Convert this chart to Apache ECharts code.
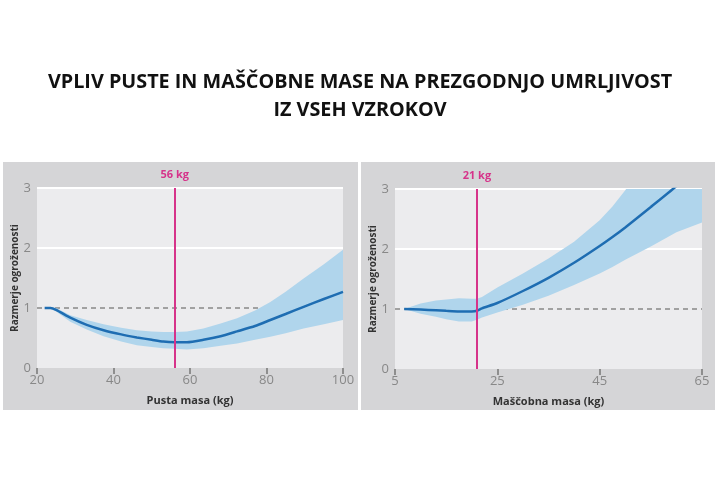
<!DOCTYPE html>
<html><head><meta charset="utf-8">
<script src="https://cdn.jsdelivr.net/npm/echarts@6/dist/echarts.min.js"></script>
<style>html,body{margin:0;padding:0;background:#fff}#c{width:720px;height:500px}</style>
</head><body><div id="c"></div>
<script>
// ---- data ----
const titleLines = ['VPLIV PUSTE IN MAŠČOBNE MASE NA PREZGODNJO UMRLJIVOST', 'IZ VSEH VZROKOV'];
const yName = 'Razmerje ogroženosti';
const leftXName = 'Pusta masa (kg)';
const rightXName = 'Maščobna masa (kg)';
const leftRef = 56, rightRef = 21;
const leftRefLabel = '56 kg', rightRefLabel = '21 kg';

const leftX   = [22, 23.5, 25, 28.7, 33, 37.4, 42, 46.1, 50, 53, 56, 59.2, 63.5, 68, 72.3, 77, 81, 85, 89.7, 95, 100];
const leftMid = [1.0, 1.0, 0.97, 0.84, 0.72, 0.63, 0.56, 0.51, 0.47, 0.44, 0.43, 0.43, 0.47, 0.53, 0.61, 0.70, 0.80, 0.90, 1.02, 1.15, 1.27];
const leftUp  = [1.0, 1.01, 1.0, 0.88, 0.80, 0.73, 0.67, 0.63, 0.61, 0.60, 0.60, 0.61, 0.66, 0.74, 0.83, 0.96, 1.10, 1.27, 1.49, 1.73, 1.97];
const leftLow = [1.0, 0.99, 0.94, 0.77, 0.64, 0.53, 0.44, 0.38, 0.35, 0.33, 0.32, 0.31, 0.33, 0.37, 0.41, 0.47, 0.52, 0.58, 0.66, 0.73, 0.80];

const rightX   = [6.8, 10, 13, 15, 17.5, 20, 21, 22, 25, 30, 35, 40, 45, 47.5, 50, 55, 60, 65];
const rightMid = [1.0, 0.99, 0.98, 0.97, 0.96, 0.96, 0.97, 1.01, 1.10, 1.30, 1.52, 1.77, 2.05, 2.20, 2.36, 2.70, 3.05, 3.45];
const rightUp  = [1.0, 1.09, 1.14, 1.16, 1.18, 1.17, 1.17, 1.20, 1.36, 1.59, 1.84, 2.12, 2.48, 2.71, 2.98, 3.55, 4.2, 4.9];
const rightLow = [1.0, 0.92, 0.87, 0.83, 0.79, 0.79, 0.82, 0.86, 0.94, 1.07, 1.22, 1.40, 1.59, 1.70, 1.82, 2.04, 2.28, 2.44];

const leftTicks = {min: 20, max: 100, interval: 20};
const rightTicks = {min: 5, max: 65, interval: 20};
const yTicks = {min: 0, max: 3, interval: 1};

// ---- styles ----
const BAND = '#b0d5ec', LINE = '#1e6db2', PINK = '#d6338a', PLOTBG = '#ececee', PANEL = '#d5d5d7';
const pairs = (xs, ys) => xs.map((x, i) => [x, ys[i]]);

function xAxisCfg(idx, t, name) {
  return {
    type: 'value', gridIndex: idx, min: t.min, max: t.max, interval: t.interval,
    name: name, nameLocation: 'middle', nameGap: 27,
    nameTextStyle: {fontFamily: 'Open Sans', fontWeight: 'bold', fontSize: 11, color: '#333'},
    axisLine: {show: false},
    axisTick: {show: true, length: 6, lineStyle: {color: '#777', width: 1.5}},
    axisLabel: {fontFamily: 'Open Sans', fontSize: 13, color: '#888', margin: 6},
    splitLine: {show: false}
  };
}
function yAxisCfg(idx) {
  return {
    type: 'value', gridIndex: idx, min: yTicks.min, max: yTicks.max, interval: yTicks.interval,
    name: yName, nameLocation: 'middle', nameGap: 17, nameRotate: 90,
    nameTextStyle: {fontFamily: 'Open Sans', fontWeight: 'bold', fontSize: 10, color: '#333'},
    axisLine: {show: false}, axisTick: {show: false},
    axisLabel: {fontFamily: 'Open Sans', fontSize: 13, color: '#888', margin: 6},
    splitLine: {show: true, lineStyle: {color: ['rgba(0,0,0,0)', 'rgba(0,0,0,0)', '#ffffff', '#ffffff'], width: 2}}
  };
}
function bandSeries(idx, xs, lo, up) {
  return {
    type: 'custom', xAxisIndex: idx, yAxisIndex: idx, clip: true, silent: true, z: 2,
    data: [0],
    renderItem: function (params, api) {
      const pts = [];
      for (let i = 0; i < xs.length; i++) pts.push(api.coord([xs[i], up[i]]));
      for (let i = xs.length - 1; i >= 0; i--) pts.push(api.coord([xs[i], lo[i]]));
      return {type: 'polygon', shape: {points: pts}, style: {fill: BAND}};
    }
  };
}
function panelSeries(idx, xs, mid, lo, up, t, ref, refLabel) {
  return [
    {type: 'line', xAxisIndex: idx, yAxisIndex: idx, data: [[t.min, 1], [t.max, 1]], symbol: 'none',
     lineStyle: {color: '#888', width: 1.5, type: [5, 4]}, z: 1, silent: true},
    bandSeries(idx, xs, lo, up),
    {type: 'line', xAxisIndex: idx, yAxisIndex: idx, data: pairs(xs, mid), symbol: 'none', smooth: 0.2,
     lineStyle: {color: LINE, width: 2.5}, z: 4, silent: true,
     markLine: {symbol: 'none', silent: true, animation: false,
       lineStyle: {color: PINK, width: 2, type: 'solid'},
       label: {show: true, position: 'end', formatter: refLabel, color: PINK, fontFamily: 'Open Sans',
               fontWeight: 'bold', fontSize: 11, distance: 8},
       data: [{xAxis: ref}]}}
  ];
}

const chart = echarts.init(document.getElementById('c'), null, {renderer: 'canvas'});
chart.setOption({
  animation: false,
  backgroundColor: '#ffffff',
  graphic: [
    {type: 'rect', shape: {x: 3, y: 162, width: 355, height: 248}, style: {fill: PANEL}, z: -10},
    {type: 'rect', shape: {x: 361, y: 162, width: 354, height: 248}, style: {fill: PANEL}, z: -10},
    {type: 'text', x: 360, y: 82, z: 10,
     style: {text: titleLines[0], fontFamily: 'Open Sans', fontWeight: 'bold', fontSize: 19.8,
             fill: '#111', align: 'center', verticalAlign: 'middle'}},
    {type: 'text', x: 360, y: 110, z: 10,
     style: {text: titleLines[1], fontFamily: 'Open Sans', fontWeight: 'bold', fontSize: 19.8,
             fill: '#111', align: 'center', verticalAlign: 'middle'}}
  ],
  grid: [
    {left: 37, top: 188, width: 306, height: 180, show: true, backgroundColor: PLOTBG, borderWidth: 0},
    {left: 395, top: 189, width: 307, height: 180, show: true, backgroundColor: PLOTBG, borderWidth: 0}
  ],
  xAxis: [xAxisCfg(0, leftTicks, leftXName), xAxisCfg(1, rightTicks, rightXName)],
  yAxis: [yAxisCfg(0), yAxisCfg(1)],
  series: [].concat(
    panelSeries(0, leftX, leftMid, leftLow, leftUp, leftTicks, leftRef, leftRefLabel),
    panelSeries(1, rightX, rightMid, rightLow, rightUp, rightTicks, rightRef, rightRefLabel)
  )
});
</script></body></html>
